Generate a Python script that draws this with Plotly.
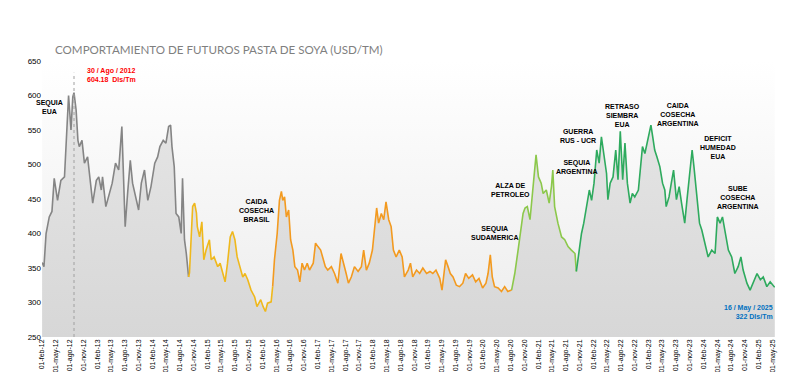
import pandas as pd
import plotly.graph_objects as go

# ---------------- DATA ----------------
fechas = [
    "2012-02-01","2012-02-13","2012-02-27","2012-03-19","2012-04-06","2012-04-21","2012-05-13","2012-06-04",
    "2012-06-28","2012-07-12","2012-07-25","2012-08-10","2012-08-22","2012-08-30","2012-09-13","2012-09-25",
    "2012-10-04","2012-10-22","2012-11-07","2012-11-28","2012-12-22","2013-01-01","2013-01-25","2013-02-10",
    "2013-02-27","2013-03-07","2013-03-29","2013-04-22","2013-05-10","2013-06-01","2013-06-22","2013-07-13",
    "2013-07-29","2013-08-04","2013-08-20","2013-09-07","2013-09-22","2013-10-16","2013-11-01","2013-11-19",
    "2013-12-10","2014-01-01","2014-01-22","2014-02-16","2014-03-07","2014-03-22","2014-04-13","2014-05-01",
    "2014-05-19","2014-06-01","2014-06-10","2014-06-25","2014-07-07","2014-07-25","2014-08-10","2014-08-19",
    "2014-09-01","2014-09-13","2014-09-28",
    "2014-10-04","2014-10-25","2014-11-07","2014-11-19","2014-11-25","2014-12-10","2014-12-25","2015-01-07",
    "2015-01-22","2015-02-13","2015-02-25","2015-03-16","2015-04-09","2015-04-25","2015-05-19","2015-05-28",
    "2015-06-13","2015-07-01","2015-07-16","2015-08-01","2015-08-16","2015-09-01","2015-09-22","2015-10-07",
    "2015-10-25","2015-11-16","2015-12-10","2015-12-25","2016-01-19","2016-02-04","2016-02-19","2016-03-04",
    "2016-03-28","2016-04-07",
    "2016-04-19","2016-05-07","2016-05-22","2016-06-04","2016-06-13","2016-06-25","2016-07-07","2016-07-22",
    "2016-08-04","2016-08-19","2016-09-01","2016-09-19","2016-10-04","2016-10-19","2016-11-04","2016-11-22",
    "2016-12-07","2017-01-01","2017-01-16","2017-02-01","2017-02-19","2017-03-04","2017-03-22","2017-04-07",
    "2017-05-01","2017-05-22","2017-06-13","2017-07-04","2017-07-22","2017-08-07","2017-08-22","2017-09-10",
    "2017-10-01","2017-10-25","2017-11-16","2017-12-01","2017-12-19","2018-01-07","2018-01-28","2018-02-13",
    "2018-02-25","2018-03-10","2018-03-28","2018-04-13","2018-04-28","2018-05-16","2018-06-01","2018-06-16",
    "2018-07-04","2018-07-25","2018-08-13","2018-08-28","2018-09-22","2018-10-07","2018-10-22","2018-11-16",
    "2018-12-07","2018-12-28","2019-01-22","2019-02-13","2019-03-04","2019-03-25","2019-04-19","2019-05-04",
    "2019-05-28","2019-06-13","2019-06-28","2019-07-16","2019-08-07","2019-08-28","2019-09-19","2019-10-07",
    "2019-10-28","2019-11-22","2019-12-13","2020-01-04","2020-01-28","2020-02-19","2020-03-04","2020-03-19",
    "2020-04-01","2020-04-16","2020-05-10","2020-06-01","2020-06-22","2020-07-13","2020-08-07",
    "2020-08-28","2020-09-19","2020-10-13","2020-10-22","2020-11-04","2020-11-19","2020-12-07","2020-12-25",
    "2021-01-16","2021-02-01","2021-02-19","2021-03-04","2021-03-25","2021-04-13","2021-04-28","2021-05-07",
    "2021-05-19","2021-06-10","2021-07-04","2021-07-25","2021-08-16","2021-09-07","2021-10-01","2021-10-10",
    "2021-10-28","2021-11-13","2021-11-28","2021-12-16","2022-01-04","2022-01-19","2022-02-04","2022-02-22",
    "2022-03-10","2022-03-25","2022-04-10","2022-04-28","2022-05-07","2022-05-22","2022-06-10","2022-06-28",
    "2022-07-13","2022-07-28","2022-08-13","2022-08-28","2022-09-13","2022-10-01","2022-10-16","2022-11-01",
    "2022-11-25","2022-12-10","2022-12-22","2023-01-07","2023-01-22","2023-02-07","2023-02-16","2023-02-28",
    "2023-03-13","2023-03-28","2023-04-16","2023-05-04","2023-05-19","2023-05-28","2023-06-16","2023-07-01",
    "2023-07-16","2023-08-04","2023-08-22","2023-09-07","2023-09-28","2023-10-13","2023-11-01","2023-11-16",
    "2023-11-28","2023-12-16","2024-01-04","2024-01-19","2024-02-10","2024-03-01","2024-03-25","2024-04-16",
    "2024-05-01","2024-05-19","2024-06-04","2024-06-19","2024-07-13","2024-08-04","2024-08-25","2024-09-16",
    "2024-10-04","2024-10-19","2024-11-13","2024-12-04","2024-12-25","2025-01-19","2025-02-10","2025-03-01",
    "2025-03-25","2025-04-16","2025-05-16",
]
precios = [
    358,352,400,424,432,480,448,477,
    482,540,600,550,598,604.18,579,535,
    526,535,502,511,468,444,477,482,
    463,482,439,458,473,502,492,555,
    468,410,458,506,473,448,434,473,
    492,448,468,502,511,526,535,531,
    555,557,526,497,429,424,400,480,
    391,371,337,
    343,439,444,430,410,395,417,362,
    376,391,362,366,352,357,337,330,
    357,395,403,391,366,352,337,342,
    333,318,308,294,304,294,287,299,
    301,323,
    362,400,448,461,448,453,424,434,
    391,376,352,347,330,357,347,357,
    347,357,386,381,376,366,352,347,
    352,342,328,371,357,342,328,337,
    352,345,352,376,347,357,376,410,
    437,415,429,420,446,420,410,376,
    366,376,366,337,347,357,337,347,
    342,350,342,345,342,347,335,318,
    362,352,342,337,325,323,328,342,
    335,340,330,335,321,328,342,369,
    337,323,321,316,323,316,318,
    342,376,415,429,437,439,420,463,
    514,482,473,458,463,444,468,492,
    439,415,395,391,381,376,371,345,
    376,400,415,439,463,448,473,521,
    502,540,511,487,449,473,482,521,
    478,548,478,531,473,444,458,453,
    463,497,526,516,531,545,557,540,
    521,511,497,473,463,439,453,473,
    492,449,468,444,415,449,487,521,
    497,453,415,405,386,366,376,371,
    424,415,424,405,376,366,342,352,
    366,347,328,318,328,342,333,337,
    323,330,322,
]
# end date of each colour phase (inclusive)
fin_fase = ["2014-09-28", "2016-04-07", "2020-08-07", "2021-10-10", "2025-05-16"]

meses = ["ene","feb","mar","abr","may","jun","jul","ago","sep","oct","nov","dic"]
eventos = ["SEQUIA<br>EUA", "CAIDA<br>COSECHA<br>BRASIL", "SEQUIA<br>SUDAMERICA", "ALZA DE<br>PETROLEO",
           "GUERRA<br>RUS - UCR", "SEQUIA<br>ARGENTINA", "RETRASO<br>SIEMBRA<br>EUA",
           "CAIDA<br>COSECHA<br>ARGENTINA", "DEFICIT<br>HUMEDAD<br>EUA", "SUBE<br>COSECHA<br>ARGENTINA"]
maximo_txt = "30 / Ago / 2012<br>604.18  Dls/Tm"
ultimo_txt = "16 / May / 2025<br>322 Dls/Tm"
titulo = "COMPORTAMIENTO DE FUTUROS PASTA DE SOYA (USD/TM)"

# ---------------- STYLE ----------------
colores = ["#858585", "#efb81c", "#f39a1f", "#8cc84b", "#2eaa5e"]
FONT = "Liberation Sans"

df = pd.DataFrame({"f": pd.to_datetime(fechas), "p": precios})
fig = go.Figure()

# background gradient
fig.add_trace(go.Scatter(
    x=[df.f.iloc[0], df.f.iloc[-1]], y=[650, 650], mode="lines", line=dict(width=0),
    fill="tozeroy", fillgradient=dict(type="vertical", start=250, stop=650,
                                      colorscale=[[0, "#ececec"], [1, "#ffffff"]]),
    hoverinfo="skip", showlegend=False))

# area under curve
fig.add_trace(go.Scatter(
    x=df.f, y=df.p, mode="lines", line=dict(width=0), fill="tozeroy",
    fillgradient=dict(type="vertical", start=250, stop=600,
                      colorscale=[[0, "#d7d7d7"], [1, "#e6e6e6"]]),
    hoverinfo="skip", showlegend=False))

inicio = df.f.iloc[0]
for fin, col in zip(fin_fase, colores):
    fin = pd.Timestamp(fin)
    seg = df[(df.f >= inicio) & (df.f <= fin)]
    fig.add_trace(go.Scatter(x=seg.f, y=seg.p, mode="lines",
                             line=dict(color=col, width=1.6), showlegend=False))
    inicio = fin

ticks = pd.date_range("2012-02-01", "2025-05-01", freq="3MS")
ticktext = [f"01-{meses[d.month-1]}-{d.year % 100:02d}" for d in ticks]

fig.update_xaxes(range=["2012-01-31", "2025-05-18"], tickvals=ticks, ticktext=ticktext,
                 tickangle=-90, tickfont=dict(family=FONT, size=7, color="#000"),
                 showgrid=False, zeroline=False, showline=False, ticks="", automargin=False)
fig.update_yaxes(range=[250, 650], tickvals=list(range(250, 651, 50)),
                 tickfont=dict(family=FONT, size=8, color="#000"),
                 showgrid=False, zeroline=False, showline=False, ticks="", automargin=False)

# marker line for the maximum
fig.add_shape(type="line", x0="2012-08-30", x1="2012-08-30", y0=250, y1=633,
              line=dict(color="#a0a0a0", width=1, dash="dot"))

pos_eventos = [("2012-03-23", 583), ("2015-12-20", 433), ("2020-04-17", 401), ("2020-08-01", 463),
               ("2021-10-20", 541), ("2021-10-14", 497), ("2022-08-13", 571), ("2023-08-13", 572),
               ("2024-05-04", 525), ("2024-09-16", 452)]
for txt, (xx, yy) in zip(eventos, pos_eventos):
    fig.add_annotation(x=xx, y=yy, text=f"<b>{txt}</b>", showarrow=False,
                       font=dict(family=FONT, size=7, color="#000"), align="center")

fig.add_annotation(x="2012-11-13", y=629, text=f"<b>{maximo_txt}</b>", showarrow=False,
                   xanchor="left", align="left", font=dict(family=FONT, size=7, color="#ff0000"))
fig.add_annotation(x=df.f.iloc[-1], y=286, text=f"<b>{ultimo_txt}</b>", showarrow=False,
                   xanchor="right", align="right", font=dict(family=FONT, size=7, color="#0070c0"))

fig.add_annotation(xref="paper", yref="paper", x=(53 - 42) / 733, y=1.04, text=titulo,
                   showarrow=False, xanchor="left", yanchor="middle",
                   font=dict(family="Lato", size=11.6, color="#7f7f7f"))

# the page body adds an 8px offset; size the figure so the plot area lands at x 42-775, y 61-337
fig.update_layout(width=784, height=364, margin=dict(l=34, r=17, t=53, b=35),
                  paper_bgcolor="#ffffff", plot_bgcolor="#ffffff", showlegend=False)

fig.write_html("out.html")
